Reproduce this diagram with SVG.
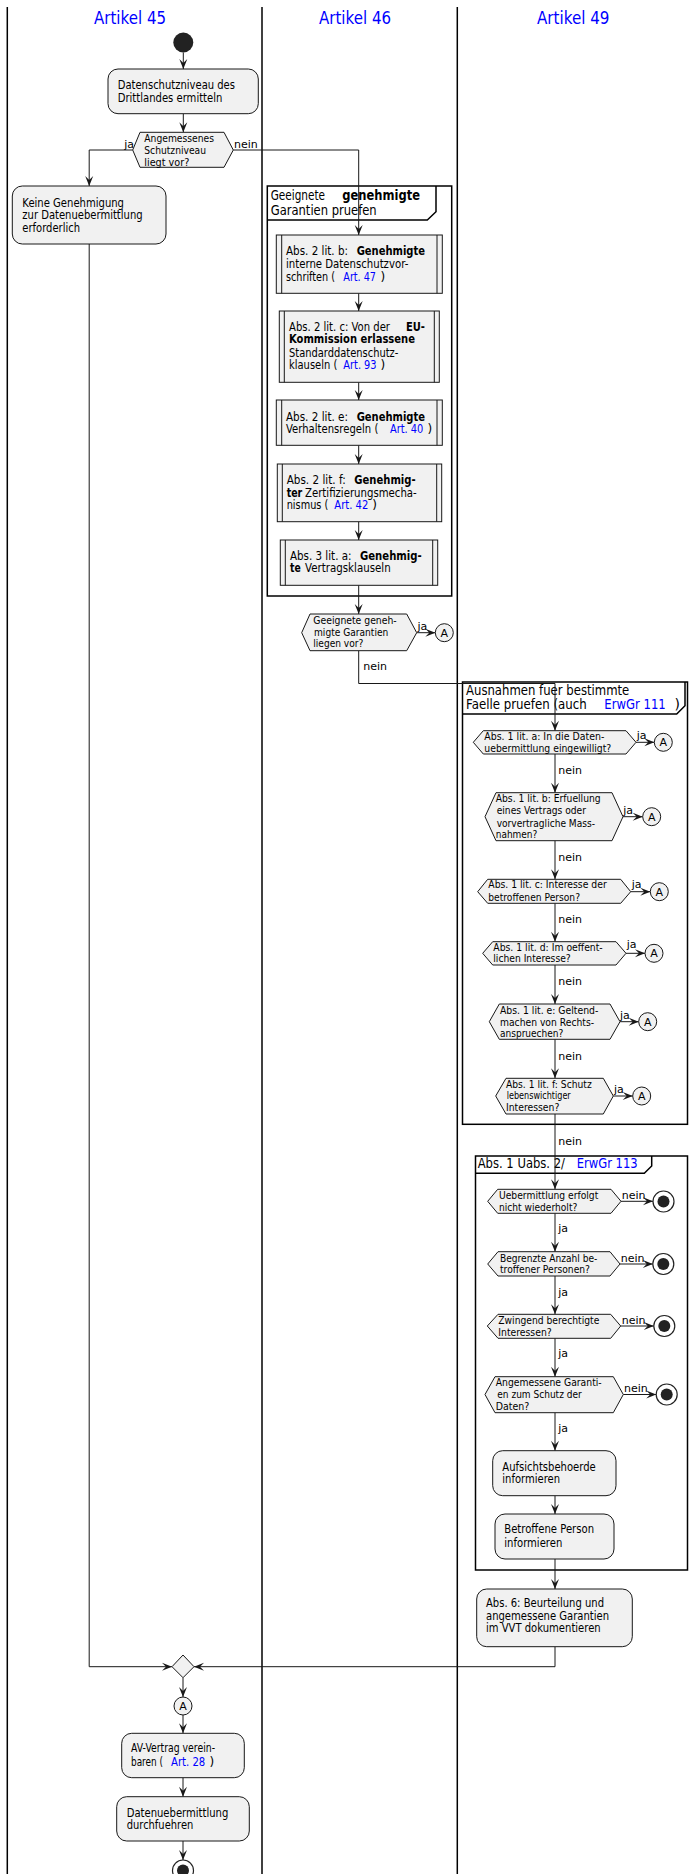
<svg xmlns="http://www.w3.org/2000/svg" width="689" height="1874" viewBox="0 0 689 1874">
<style>
text{font-family:"DejaVu Sans","Noto Sans",sans-serif;font-size:12px;fill:#000}
.d{font-size:11px}
.g{font-size:14px}
.lt{font-size:18px;fill:#0000FF}
.b{font-weight:bold}
.l{fill:#0000FF}
.box{fill:#F1F1F1;stroke:#181818;stroke-width:1}
.grp{fill:none;stroke:#000;stroke-width:1.5}
.lane{stroke:#000;stroke-width:1.5}
.c{fill:none;stroke:#181818;stroke-width:1;marker-end:url(#ah)}
.sub{fill:none;stroke:#181818;stroke-width:1}
.endo{fill:#fff;stroke:#222;stroke-width:1.2}
.dot{fill:#222}
.ac{fill:#F1F1F1;stroke:#181818;stroke-width:1}
</style>
<defs>
<marker id="ah" markerUnits="userSpaceOnUse" markerWidth="11" markerHeight="9" refX="10" refY="4.5" orient="auto" overflow="visible">
<path d="M0,0.5 L10,4.5 L0,8.5 L4,4.5 Z" fill="#181818"/>
</marker>
</defs>
<rect width="689" height="1874" fill="#fff"/>
<g id="lanes">
<line class="lane" x1="7.3" y1="7" x2="7.3" y2="1874"/>
<line class="lane" x1="262" y1="7" x2="262" y2="1874"/>
<line class="lane" x1="457.3" y1="7" x2="457.3" y2="1874"/>
<text class="lt" x="94" y="23.5" textLength="72" lengthAdjust="spacingAndGlyphs">Artikel 45</text>
<text class="lt" x="319" y="23.5" textLength="72" lengthAdjust="spacingAndGlyphs">Artikel 46</text>
<text class="lt" x="537" y="23.5" textLength="72.5" lengthAdjust="spacingAndGlyphs">Artikel 49</text>
</g>
<g id="groups">
<g id="grp46">
<rect class="grp" x="267.3" y="186" width="184.4" height="410"/>
<path class="grp" d="M267.3,220 H427.3 L436,211.7 V186"/>
<text class="g" x="270.7" y="200" textLength="54.3" lengthAdjust="spacingAndGlyphs">Geeignete</text>
<text class="g b" x="342.3" y="200" textLength="77.7" lengthAdjust="spacingAndGlyphs">genehmigte</text>
<text class="g" x="270.7" y="214.5" textLength="106" lengthAdjust="spacingAndGlyphs">Garantien pruefen</text>
</g>
<g id="grpAusnahmen">
<rect class="grp" x="462.5" y="682" width="225" height="442.3"/>
<path class="grp" d="M462.5,714 H676.7 L685,705.7 V682"/>
<text class="g" x="466" y="695" textLength="163.3" lengthAdjust="spacingAndGlyphs">Ausnahmen fuer bestimmte</text>
<text class="g" x="466" y="709.3" textLength="120.7" lengthAdjust="spacingAndGlyphs">Faelle pruefen (auch</text>
<text class="g l" x="604.3" y="709.3" textLength="61.4" lengthAdjust="spacingAndGlyphs">ErwGr 111</text>
<text class="g" x="674.5" y="709.3">)</text>
</g>
<g id="grpUabs">
<rect class="grp" x="475.5" y="1156" width="212" height="414"/>
<path class="grp" d="M475.5,1173.3 H644.3 L651.7,1166 V1156"/>
<text class="g" x="477.7" y="1168.3" textLength="87.3" lengthAdjust="spacingAndGlyphs">Abs. 1 Uabs. 2/</text>
<text class="g l" x="576.7" y="1168.3" textLength="61" lengthAdjust="spacingAndGlyphs">ErwGr 113</text>
</g>
</g>
<g id="connectors">
<path class="c" d="M183.3,52.5 V69"/>
<path class="c" d="M183.3,113.7 V132.3"/>
<path class="c" d="M132.7,150 H89.2 V186"/>
<path class="c" d="M233.3,150 H358.7 V235"/>
<path class="c" d="M89.2,244 V1666.7 H172"/>
<path class="c" d="M555,1646.7 V1666.7 H194"/>
<path class="c" d="M183,1677.7 V1697"/>
<path class="c" d="M183,1715 V1733.3"/>
<path class="c" d="M183,1777.7 V1796.7"/>
<path class="c" d="M183,1841 V1860"/>
<path class="c" d="M358.7,293.3 V311"/>
<path class="c" d="M358.7,382.3 V400"/>
<path class="c" d="M358.7,445.3 V464"/>
<path class="c" d="M358.7,521.7 V540"/>
<path class="c" d="M358.7,585.3 V614"/>
<path class="c" d="M416.7,632.7 H435.3"/>
<path class="c" d="M358.7,650.7 V683.5 H555 V730.7"/>
<path class="c" d="M636,742.3 H654.3"/>
<path class="c" d="M555,754 V792.7"/>
<path class="c" d="M623,816.7 H642.7"/>
<path class="c" d="M555,840.7 V879.3"/>
<path class="c" d="M630.7,891.7 H650.3"/>
<path class="c" d="M555,903.3 V941.7"/>
<path class="c" d="M626,953.3 H645"/>
<path class="c" d="M555,965 V1004"/>
<path class="c" d="M620,1021.7 H638.7"/>
<path class="c" d="M555,1039.3 V1078.3"/>
<path class="c" d="M613.3,1096 H632.7"/>
<path class="c" d="M555,1114 V1189.3"/>
<path class="c" d="M621,1201.3 H653"/>
<path class="c" d="M555,1213.3 V1251.7"/>
<path class="c" d="M620,1264 H652.8"/>
<path class="c" d="M555,1276 V1314.3"/>
<path class="c" d="M620.7,1326 H653.8"/>
<path class="c" d="M555,1338.3 V1376.7"/>
<path class="c" d="M623.3,1394.5 H656.2"/>
<path class="c" d="M555,1412.7 V1450.7"/>
<path class="c" d="M555,1495.7 V1514"/>
<path class="c" d="M555,1559 V1589"/>
<g id="labels">
<text class="d" x="124.3" y="147.7">ja</text>
<text class="d" x="234" y="147.7">nein</text>
<text class="d" x="417.5" y="630">ja</text>
<text class="d" x="363.3" y="670">nein</text>
<text class="d" x="636.7" y="739.3">ja</text>
<text class="d" x="623.3" y="814">ja</text>
<text class="d" x="631.7" y="888.3">ja</text>
<text class="d" x="626.7" y="948.3">ja</text>
<text class="d" x="620" y="1019">ja</text>
<text class="d" x="614" y="1093.3">ja</text>
<text class="d" x="558.3" y="774.3">nein</text>
<text class="d" x="558.3" y="861">nein</text>
<text class="d" x="558.3" y="922.7">nein</text>
<text class="d" x="558.3" y="985">nein</text>
<text class="d" x="558.3" y="1060">nein</text>
<text class="d" x="558.3" y="1145">nein</text>
<text class="d" x="621.7" y="1198.7">nein</text>
<text class="d" x="620.7" y="1261.7">nein</text>
<text class="d" x="621.7" y="1324">nein</text>
<text class="d" x="624" y="1391.7">nein</text>
<text class="d" x="558.3" y="1232.3">ja</text>
<text class="d" x="558.3" y="1296">ja</text>
<text class="d" x="558.3" y="1357.3">ja</text>
<text class="d" x="558.3" y="1432.3">ja</text>
</g>
</g>
<g id="start"><circle class="dot" cx="183.3" cy="42.5" r="10"/></g>
<g id="n_datenschutzniveau">
<rect class="box" x="108" y="69" width="150.3" height="44.7" rx="10"/>
<text x="117.7" y="89" textLength="117.3" lengthAdjust="spacingAndGlyphs">Datenschutzniveau des</text>
<text x="117.7" y="102" textLength="104.7" lengthAdjust="spacingAndGlyphs">Drittlandes ermitteln</text>
</g>
<g id="d_schutzniveau">
<polygon class="box" points="132.7,150 140,132.3 224,132.3 233.3,150 224,167.3 140,167.3"/>
<text class="d" x="144.3" y="141.5" textLength="69.7" lengthAdjust="spacingAndGlyphs">Angemessenes</text>
<text class="d" x="144.3" y="153.5" textLength="61.7" lengthAdjust="spacingAndGlyphs">Schutzniveau</text>
<text class="d" x="144.3" y="165.5" textLength="45" lengthAdjust="spacingAndGlyphs">liegt vor?</text>
</g>
<g id="n_keine">
<rect class="box" x="12.3" y="186" width="153.7" height="58" rx="10"/>
<text x="22.3" y="206.5" textLength="101.7" lengthAdjust="spacingAndGlyphs">Keine Genehmigung</text>
<text x="22.3" y="219.3" textLength="120.3" lengthAdjust="spacingAndGlyphs">zur Datenuebermittlung</text>
<text x="22.3" y="232" textLength="57.7" lengthAdjust="spacingAndGlyphs">erforderlich</text>
</g>
<g id="s_art47">
<rect class="box" x="276.3" y="235" width="166" height="58.3"/>
<path class="sub" d="M281.7,235 V293.3 M437,235 V293.3"/>
<text x="286" y="255" textLength="62" lengthAdjust="spacingAndGlyphs">Abs. 2 lit. b:</text>
<text class="b" x="356.7" y="255" textLength="68.3" lengthAdjust="spacingAndGlyphs">Genehmigte</text>
<text x="286" y="267.7" textLength="122.3" lengthAdjust="spacingAndGlyphs">interne Datenschutzvor-</text>
<text x="286" y="280.7" textLength="49" lengthAdjust="spacingAndGlyphs">schriften (</text>
<text class="l" x="343.3" y="280.7" textLength="32.7" lengthAdjust="spacingAndGlyphs">Art. 47</text>
<text x="380.5" y="280.7">)</text>
</g>
<g id="s_art93">
<rect class="box" x="279.3" y="311" width="160" height="71.3"/>
<path class="sub" d="M284.3,311 V382.3 M434.3,311 V382.3"/>
<text x="289" y="330.7" textLength="101" lengthAdjust="spacingAndGlyphs">Abs. 2 lit. c: Von der</text>
<text class="b" x="406" y="330.7" textLength="19" lengthAdjust="spacingAndGlyphs">EU-</text>
<text class="b" x="289" y="343.3" textLength="126" lengthAdjust="spacingAndGlyphs">Kommission erlassene</text>
<text x="289" y="356.5" textLength="109.3" lengthAdjust="spacingAndGlyphs">Standarddatenschutz-</text>
<text x="289" y="369.3" textLength="48.3" lengthAdjust="spacingAndGlyphs">klauseln (</text>
<text class="l" x="343.3" y="369.3" textLength="33.3" lengthAdjust="spacingAndGlyphs">Art. 93</text>
<text x="380.5" y="369.3">)</text>
</g>
<g id="s_art40">
<rect class="box" x="276.3" y="400" width="166" height="45.3"/>
<path class="sub" d="M281.7,400 V445.3 M437,400 V445.3"/>
<text x="286" y="420.7" textLength="62" lengthAdjust="spacingAndGlyphs">Abs. 2 lit. e:</text>
<text class="b" x="356.7" y="420.7" textLength="68.3" lengthAdjust="spacingAndGlyphs">Genehmigte</text>
<text x="286" y="433.3" textLength="92.3" lengthAdjust="spacingAndGlyphs">Verhaltensregeln (</text>
<text class="l" x="390" y="433.3" textLength="33.3" lengthAdjust="spacingAndGlyphs">Art. 40</text>
<text x="427.5" y="433.3">)</text>
</g>
<g id="s_art42">
<rect class="box" x="277.3" y="464" width="164.4" height="57.7"/>
<path class="sub" d="M282.3,464 V521.7 M436.7,464 V521.7"/>
<text x="286.7" y="484.3" textLength="59" lengthAdjust="spacingAndGlyphs">Abs. 2 lit. f:</text>
<text class="b" x="354.3" y="484.3" textLength="61.3" lengthAdjust="spacingAndGlyphs">Genehmig-</text>
<text class="b" x="286.7" y="496.7" textLength="15.6" lengthAdjust="spacingAndGlyphs">ter</text>
<text x="305" y="496.7" textLength="111.7" lengthAdjust="spacingAndGlyphs">Zertifizierungsmecha-</text>
<text x="286.7" y="509.3" textLength="41.6" lengthAdjust="spacingAndGlyphs">nismus (</text>
<text class="l" x="334.3" y="509.3" textLength="34" lengthAdjust="spacingAndGlyphs">Art. 42</text>
<text x="372.2" y="509.3">)</text>
</g>
<g id="s_vertragsklauseln">
<rect class="box" x="280.3" y="540" width="157.4" height="45.3"/>
<path class="sub" d="M285.3,540 V585.3 M432.7,540 V585.3"/>
<text x="290" y="560" textLength="61.5" lengthAdjust="spacingAndGlyphs">Abs. 3 lit. a:</text>
<text class="b" x="360" y="560" textLength="61.7" lengthAdjust="spacingAndGlyphs">Genehmig-</text>
<text class="b" x="290" y="572.3" textLength="10.7" lengthAdjust="spacingAndGlyphs">te</text>
<text x="305" y="572.3" textLength="85.7" lengthAdjust="spacingAndGlyphs">Vertragsklauseln</text>
</g>
<g id="d_garantien">
<polygon class="box" points="301.7,632.7 310,614 406.7,614 416.7,632.7 406.7,650.7 310,650.7"/>
<text class="d" x="313.3" y="624.3" textLength="83.4" lengthAdjust="spacingAndGlyphs">Geeignete geneh-</text>
<text class="d" x="314" y="636" textLength="74.3" lengthAdjust="spacingAndGlyphs">migte Garantien</text>
<text class="d" x="313.3" y="647.3" textLength="50" lengthAdjust="spacingAndGlyphs">liegen vor?</text>
</g>
<g id="d_lit_a">
<polygon class="box" points="473.3,742.3 483.3,730.7 626,730.7 636,742.3 626,754 483.3,754"/>
<text class="d" x="484.3" y="740" textLength="120" lengthAdjust="spacingAndGlyphs">Abs. 1 lit. a: In die Daten-</text>
<text class="d" x="484.3" y="751.7" textLength="127" lengthAdjust="spacingAndGlyphs">uebermittlung eingewilligt?</text>
</g>
<g id="d_lit_b">
<polygon class="box" points="485,816.7 496,792.7 612,792.7 623,816.7 612,840.7 496,840.7"/>
<text class="d" x="495.7" y="802.3" textLength="105" lengthAdjust="spacingAndGlyphs">Abs. 1 lit. b: Erfuellung</text>
<text class="d" x="496.7" y="814.3" textLength="89.3" lengthAdjust="spacingAndGlyphs">eines Vertrags oder</text>
<text class="d" x="496.7" y="826.7" textLength="98.3" lengthAdjust="spacingAndGlyphs">vorvertragliche Mass-</text>
<text class="d" x="495.7" y="838.3" textLength="41.6" lengthAdjust="spacingAndGlyphs">nahmen?</text>
</g>
<g id="d_lit_c">
<polygon class="box" points="477.7,891.7 487.7,879.3 620.7,879.3 630.7,891.7 620.7,903.3 487.7,903.3"/>
<text class="d" x="488.3" y="888.3" textLength="118.4" lengthAdjust="spacingAndGlyphs">Abs. 1 lit. c: Interesse der</text>
<text class="d" x="488.3" y="900.7" textLength="91.7" lengthAdjust="spacingAndGlyphs">betroffenen Person?</text>
</g>
<g id="d_lit_d">
<polygon class="box" points="482.7,953.3 492.7,941.7 616,941.7 626,953.3 616,965 492.7,965"/>
<text class="d" x="493.3" y="950.7" textLength="109.4" lengthAdjust="spacingAndGlyphs">Abs. 1 lit. d: Im oeffent-</text>
<text class="d" x="493.3" y="962.3" textLength="77.4" lengthAdjust="spacingAndGlyphs">lichen Interesse?</text>
</g>
<g id="d_lit_e">
<polygon class="box" points="489.3,1021.7 499.3,1004 610,1004 620,1021.7 610,1039.3 499.3,1039.3"/>
<text class="d" x="500" y="1014" textLength="98.3" lengthAdjust="spacingAndGlyphs">Abs. 1 lit. e: Geltend-</text>
<text class="d" x="500" y="1025.7" textLength="94" lengthAdjust="spacingAndGlyphs">machen von Rechts-</text>
<text class="d" x="500" y="1036.7" textLength="63.3" lengthAdjust="spacingAndGlyphs">anspruechen?</text>
</g>
<g id="d_lit_f">
<polygon class="box" points="495.7,1096 506,1078.3 603.3,1078.3 613.3,1096 603.3,1114 506,1114"/>
<text class="d" x="506" y="1087.7" textLength="85.7" lengthAdjust="spacingAndGlyphs">Abs. 1 lit. f: Schutz</text>
<text class="d" x="506.7" y="1099.3" textLength="64" lengthAdjust="spacingAndGlyphs">lebenswichtiger</text>
<text class="d" x="506" y="1111" textLength="53.3" lengthAdjust="spacingAndGlyphs">Interessen?</text>
</g>
<g id="d_u1">
<polygon class="box" points="487.7,1201.3 497.7,1189.3 611,1189.3 621,1201.3 611,1213.3 497.7,1213.3"/>
<text class="d" x="499" y="1198.7" textLength="99.3" lengthAdjust="spacingAndGlyphs">Uebermittlung erfolgt</text>
<text class="d" x="499" y="1210.7" textLength="78.3" lengthAdjust="spacingAndGlyphs">nicht wiederholt?</text>
</g>
<g id="d_u2">
<polygon class="box" points="487.7,1264 498,1251.7 610,1251.7 620,1264 610,1276 498,1276"/>
<text class="d" x="500" y="1261.7" textLength="97.3" lengthAdjust="spacingAndGlyphs">Begrenzte Anzahl be-</text>
<text class="d" x="500" y="1272.7" textLength="90" lengthAdjust="spacingAndGlyphs">troffener Personen?</text>
</g>
<g id="d_u3">
<polygon class="box" points="487.3,1326 498,1314.3 610.7,1314.3 620.7,1326 610.7,1338.3 498,1338.3"/>
<text class="d" x="498.3" y="1324" textLength="101" lengthAdjust="spacingAndGlyphs">Zwingend berechtigte</text>
<text class="d" x="498.3" y="1335.7" textLength="53.4" lengthAdjust="spacingAndGlyphs">Interessen?</text>
</g>
<g id="d_u4">
<polygon class="box" points="485,1394.5 495,1376.7 613.3,1376.7 623.3,1394.5 613.3,1412.7 495,1412.7"/>
<text class="d" x="495.7" y="1386" textLength="106" lengthAdjust="spacingAndGlyphs">Angemessene Garanti-</text>
<text class="d" x="497.3" y="1398.3" textLength="84.4" lengthAdjust="spacingAndGlyphs">en zum Schutz der</text>
<text class="d" x="495.7" y="1410" textLength="33.6" lengthAdjust="spacingAndGlyphs">Daten?</text>
</g>
<g id="n_aufsicht">
<rect class="box" x="492.7" y="1450.7" width="123.3" height="45" rx="10"/>
<text x="502.3" y="1470.7" textLength="93.4" lengthAdjust="spacingAndGlyphs">Aufsichtsbehoerde</text>
<text x="502.3" y="1483.3" textLength="57.7" lengthAdjust="spacingAndGlyphs">informieren</text>
</g>
<g id="n_betroffene">
<rect class="box" x="495" y="1514" width="119" height="45" rx="10"/>
<text x="504.3" y="1533.3" textLength="89.7" lengthAdjust="spacingAndGlyphs">Betroffene Person</text>
<text x="504.3" y="1546.7" textLength="58" lengthAdjust="spacingAndGlyphs">informieren</text>
</g>
<g id="n_abs6">
<rect class="box" x="476.7" y="1589" width="155.6" height="57.7" rx="10"/>
<text x="486" y="1606.7" textLength="118" lengthAdjust="spacingAndGlyphs">Abs. 6: Beurteilung und</text>
<text x="486" y="1620" textLength="123" lengthAdjust="spacingAndGlyphs">angemessene Garantien</text>
<text x="486" y="1632.3" textLength="114.7" lengthAdjust="spacingAndGlyphs">im VVT dokumentieren</text>
</g>
<g id="merge"><polygon class="box" points="172,1666.7 183,1655 194,1666.7 183,1677.7"/></g>
<g id="connectorsA">
<circle class="ac" cx="444.3" cy="632.7" r="9"/><text class="d" x="444.3" y="636.7" text-anchor="middle">A</text>
<circle class="ac" cx="663.3" cy="742.3" r="9"/><text class="d" x="663.3" y="746.3" text-anchor="middle">A</text>
<circle class="ac" cx="651.7" cy="816.7" r="9"/><text class="d" x="651.7" y="820.7" text-anchor="middle">A</text>
<circle class="ac" cx="659.3" cy="891.7" r="9"/><text class="d" x="659.3" y="895.7" text-anchor="middle">A</text>
<circle class="ac" cx="654" cy="953.3" r="9"/><text class="d" x="654" y="957.3" text-anchor="middle">A</text>
<circle class="ac" cx="647.7" cy="1021.7" r="9"/><text class="d" x="647.7" y="1025.7" text-anchor="middle">A</text>
<circle class="ac" cx="641.7" cy="1096" r="9"/><text class="d" x="641.7" y="1100" text-anchor="middle">A</text>
<circle class="ac" cx="183" cy="1706" r="9"/><text class="d" x="183" y="1710" text-anchor="middle">A</text>
</g>
<g id="ends">
<circle class="endo" cx="663.5" cy="1201.5" r="10.5"/><circle class="dot" cx="663.5" cy="1201.5" r="6"/>
<circle class="endo" cx="663.3" cy="1264" r="10.5"/><circle class="dot" cx="663.3" cy="1264" r="6"/>
<circle class="endo" cx="664.3" cy="1326" r="10.5"/><circle class="dot" cx="664.3" cy="1326" r="6"/>
<circle class="endo" cx="666.7" cy="1394.5" r="10.5"/><circle class="dot" cx="666.7" cy="1394.5" r="6"/>
<circle class="endo" cx="183" cy="1870.5" r="10.5"/><circle class="dot" cx="183" cy="1870.5" r="6"/>
</g>
<g id="n_av">
<rect class="box" x="121.7" y="1733.3" width="122.6" height="44.4" rx="10"/>
<text x="131" y="1752.3" textLength="84" lengthAdjust="spacingAndGlyphs">AV-Vertrag verein-</text>
<text x="131" y="1765.7" textLength="32" lengthAdjust="spacingAndGlyphs">baren (</text>
<text class="l" x="171" y="1765.7" textLength="34.3" lengthAdjust="spacingAndGlyphs">Art. 28</text>
<text x="209.5" y="1765.7">)</text>
</g>
<g id="n_durchfuehren">
<rect class="box" x="116.7" y="1796.7" width="132.6" height="44.3" rx="10"/>
<text x="126.7" y="1816.7" textLength="101.6" lengthAdjust="spacingAndGlyphs">Datenuebermittlung</text>
<text x="126.7" y="1829.3" textLength="66.6" lengthAdjust="spacingAndGlyphs">durchfuehren</text>
</g>
</svg>
